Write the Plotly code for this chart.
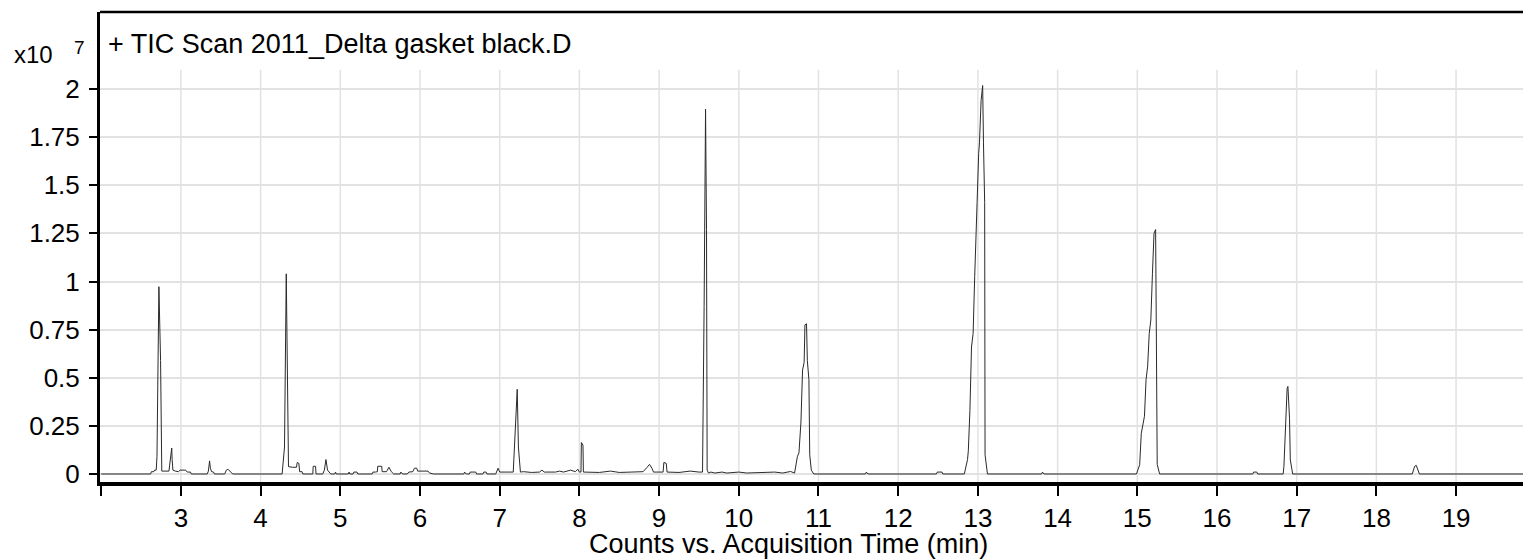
import plotly.graph_objects as go

# Acquisition time (min) and TIC counts (x10^7)
times = [
    2.00, 2.62, 2.63, 2.66, 2.67, 2.69, 2.70, 2.724, 2.745, 2.755, 2.76, 2.85, 2.87, 2.885, 2.89, 2.90,
    2.93, 2.97, 2.99, 3.06, 3.08, 3.12, 3.13, 3.33, 3.345, 3.36, 3.37, 3.385, 3.41, 3.42,
    3.55, 3.57, 3.59, 3.61, 3.63, 3.65, 4.27, 4.30, 4.322, 4.35, 4.40, 4.45, 4.46, 4.48, 4.49,
    4.52, 4.53, 4.655, 4.66, 4.69, 4.695, 4.78, 4.80, 4.82, 4.84, 4.86, 4.88, 4.93, 4.94, 4.95,
    5.10, 5.11, 5.12, 5.16, 5.17, 5.21, 5.22, 5.40, 5.41, 5.44, 5.465, 5.47, 5.52, 5.525, 5.58,
    5.61, 5.64, 5.67, 5.75, 5.76, 5.78, 5.84, 5.86, 5.91, 5.93, 5.96, 5.97, 6.10, 6.12, 6.17,
    6.55, 6.56, 6.58, 6.62, 6.63, 6.70, 6.71, 6.79, 6.80, 6.83, 6.84, 6.95, 6.98, 7.00, 7.17,
    7.22, 7.235, 7.26, 7.30, 7.40, 7.50, 7.53, 7.56, 7.70, 7.75, 7.80, 7.89, 7.95, 7.98, 8.00,
    8.02, 8.025, 8.045, 8.05, 8.10, 8.25, 8.39, 8.50, 8.65, 8.80, 8.85, 8.88, 8.91, 8.93, 9.05,
    9.06, 9.09, 9.10, 9.25, 9.39, 9.50, 9.545, 9.565, 9.583, 9.595, 9.603, 9.62, 9.65, 9.70,
    9.79, 9.85, 9.95, 10.00, 10.10, 10.35, 10.45, 10.55, 10.63, 10.65, 10.70, 10.735, 10.755,
    10.78, 10.80, 10.82, 10.83, 10.85, 10.86, 10.88, 10.89, 10.91, 10.94, 11.59, 11.60, 11.62,
    12.48, 12.49, 12.55, 12.56, 12.83, 12.87, 12.88, 12.90, 12.92, 12.94, 12.96, 12.98, 12.99,
    13.01, 13.02, 13.04, 13.05, 13.06, 13.07, 13.085, 13.09, 13.12, 13.80, 13.81, 13.83,
    14.99, 15.03, 15.05, 15.09, 15.11, 15.13, 15.15, 15.17, 15.18, 15.19, 15.21, 15.23, 15.24,
    15.25, 15.28, 16.45, 16.46, 16.50, 16.51, 16.83, 16.84, 16.85, 16.86, 16.87, 16.88, 16.89,
    16.90, 16.91, 16.92, 16.93, 16.95, 18.45, 18.46, 18.48, 18.50, 18.52, 18.54, 20.00,
]
counts = [
    0.0, 0.0, 0.012, 0.012, 0.02, 0.02, 0.09, 0.973, 0.59, 0.02, 0.015, 0.015, 0.075, 0.135, 0.075, 0.02,
    0.015, 0.012, 0.02, 0.02, 0.01, 0.01, 0.0, 0.0, 0.015, 0.068, 0.03, 0.012, 0.01, 0.0,
    0.0, 0.02, 0.025, 0.018, 0.01, 0.0, 0.0, 0.14, 1.04, 0.038, 0.035, 0.035, 0.06, 0.055, 0.012,
    0.012, 0.0, 0.0, 0.04, 0.04, 0.0, 0.0, 0.02, 0.075, 0.02, 0.01, 0.0, 0.0, 0.01, 0.0,
    0.0, 0.01, 0.0, 0.0, 0.01, 0.01, 0.0, 0.0, 0.01, 0.01, 0.012, 0.04, 0.04, 0.012, 0.012,
    0.035, 0.012, 0.0, 0.0, 0.01, 0.0, 0.0, 0.01, 0.012, 0.03, 0.03, 0.015, 0.015, 0.005, 0.0,
    0.0, 0.01, 0.0, 0.0, 0.01, 0.01, 0.0, 0.0, 0.01, 0.01, 0.0, 0.0, 0.03, 0.01, 0.01,
    0.44, 0.14, 0.01, 0.012, 0.008, 0.01, 0.02, 0.01, 0.01, 0.015, 0.01, 0.02, 0.012, 0.025, 0.01,
    0.01, 0.163, 0.15, 0.01, 0.01, 0.008, 0.015, 0.008, 0.01, 0.012, 0.035, 0.05, 0.03, 0.01, 0.01,
    0.06, 0.055, 0.01, 0.008, 0.015, 0.01, 0.01, 0.87, 1.895, 1.27, 0.02, 0.005, 0.01, 0.005,
    0.01, 0.005, 0.01, 0.01, 0.005, 0.01, 0.01, 0.005, 0.013, 0.013, 0.005, 0.09, 0.11,
    0.27, 0.54, 0.58, 0.775, 0.78, 0.59, 0.49, 0.10, 0.02, 0.0, 0.0, 0.01, 0.0,
    0.0, 0.01, 0.01, 0.0, 0.0, 0.075, 0.12, 0.33, 0.66, 0.73, 1.025, 1.355, 1.41,
    1.666, 1.72, 1.94, 1.97, 2.018, 1.72, 1.41, 0.10, 0.0, 0.0, 0.01, 0.0,
    0.0, 0.048, 0.21, 0.30, 0.49, 0.56, 0.73, 0.80, 0.97, 1.04, 1.25, 1.27, 0.67,
    0.05, 0.0, 0.0, 0.01, 0.01, 0.0, 0.0, 0.04, 0.16, 0.21, 0.41, 0.445, 0.455,
    0.35, 0.29, 0.073, 0.04, 0.0, 0.0, 0.012, 0.04, 0.045, 0.02, 0.0, 0.0,
]

x_ticks = list(range(2, 20))
x_tick_text = [""] + [str(v) for v in range(3, 20)]
y_ticks = [0, 0.25, 0.5, 0.75, 1, 1.25, 1.5, 1.75, 2]
y_tick_text = ["0", "0.25", "0.5", "0.75", "1", "1.25", "1.5", "1.75", "2"]

title_text = "+ TIC Scan 2011_Delta gasket black.D"
x_title = "Counts vs. Acquisition Time (min)"

FONT = "Liberation Sans, Arial, sans-serif"
GRID = "#e2e2e2"

fig = go.Figure()
fig.add_trace(go.Scatter(x=times, y=counts, mode="lines",
                         line=dict(color="#2a2a2a", width=1), hoverinfo="x+y"))

shapes = []
for v in range(3, 20):
    shapes.append(dict(type="line", xref="x", yref="y", x0=v, x1=v, y0=-0.05, y1=2.1,
                       line=dict(color=GRID, width=1.5), layer="below"))
shapes.append(dict(type="line", xref="paper", yref="paper", x0=0, x1=1, y0=1, y1=1,
                   line=dict(color="black", width=2.5)))

fig.update_layout(
    width=1523, height=551,
    margin=dict(l=92, r=0, t=4, b=77),
    plot_bgcolor="white", paper_bgcolor="white",
    showlegend=False,
    font=dict(family=FONT, size=26, color="black"),
    shapes=shapes,
    xaxis=dict(range=[1.985, 19.94], tickvals=x_ticks, ticktext=x_tick_text,
               ticks="outside", ticklen=10, tickwidth=1.5, tickcolor="black",
               showgrid=False, zeroline=False, showline=True, linecolor="black", linewidth=4,
               tickfont=dict(family=FONT, size=26, color="black")),
    yaxis=dict(range=[-0.0416, 2.4], tickvals=y_ticks, ticktext=y_tick_text,
               ticks="outside", ticklen=8, tickwidth=1.5, tickcolor="black",
               ticklabelstandoff=4,
               showgrid=True, gridcolor=GRID, gridwidth=1.5,
               zeroline=False, showline=True, linecolor="black", linewidth=3,
               tickfont=dict(family=FONT, size=26, color="black")),
    annotations=[
        dict(text=title_text, xref="paper", yref="paper", x=0.0042, y=0.932,
             xanchor="left", yanchor="middle", showarrow=False,
             font=dict(family=FONT, size=27, color="black")),
        dict(text="x10", xref="paper", yref="paper", x=-0.0615, y=0.909,
             xanchor="left", yanchor="middle", showarrow=False,
             font=dict(family=FONT, size=24, color="black")),
        dict(text="7", xref="paper", yref="paper", x=-0.0195, y=0.925,
             xanchor="left", yanchor="middle", showarrow=False,
             font=dict(family=FONT, size=19, color="black")),
        dict(text=x_title, xref="paper", yref="paper", x=0.481, y=-0.132,
             xanchor="center", yanchor="middle", showarrow=False,
             font=dict(family=FONT, size=27, color="black")),
    ],
)

fig.write_html("out.html")
